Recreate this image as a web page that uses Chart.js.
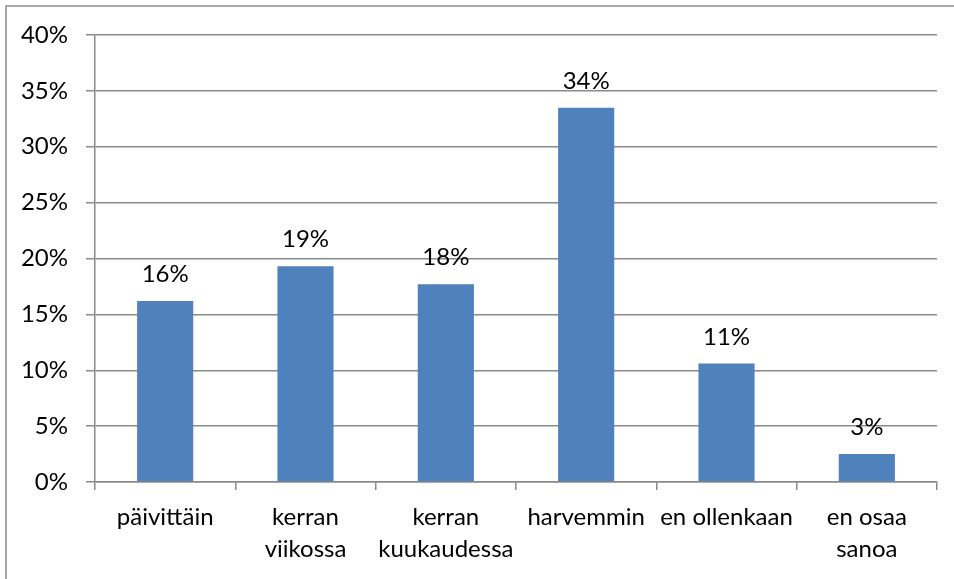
<!DOCTYPE html>
<html>
<head>
<meta charset="utf-8">
<script src="https://cdn.jsdelivr.net/npm/chart.js@4"></script>
<style>
  html, body { margin: 0; padding: 0; background: #fff; }
  #wrap { width: 954px; height: 579px; position: relative; }
</style>
</head>
<body>
<div id="wrap"><canvas id="chart" width="954" height="579"></canvas></div>
<script>
const categories = [
    'päivittäin',
    ['kerran', 'viikossa'],
    ['kerran', 'kuukaudessa'],
    'harvemmin',
    'en ollenkaan',
    ['en osaa', 'sanoa']
];
const shares = [16.2, 19.3, 17.7, 33.5, 10.6, 2.5];
const shareLabels = ['16%', '19%', '18%', '34%', '11%', '3%'];

const gridGray = '#8a8a8a';
const fontFamily = 'Lato, "Open Sans", sans-serif';

// labels above bars
const valueLabels = {
    id: 'valueLabels',
    afterDatasetsDraw(chart) {
        const ctx = chart.ctx;
        const meta = chart.getDatasetMeta(0);
        ctx.save();
        ctx.font = '24px ' + fontFamily;
        ctx.fillStyle = '#000';
        ctx.textAlign = 'center';
        ctx.textBaseline = 'alphabetic';
        meta.data.forEach((bar, i) => {
            ctx.fillText(shareLabels[i], bar.x, bar.y - 19);
        });
        ctx.restore();
    }
};

// outer frame (only top and left edges fall inside the picture)
const frame = {
    id: 'frame',
    beforeDraw(chart) {
        const ctx = chart.ctx;
        ctx.save();
        ctx.fillStyle = '#fff';
        ctx.fillRect(0, 0, chart.width, chart.height);
        ctx.strokeStyle = gridGray;
        ctx.lineWidth = 1.5;
        ctx.strokeRect(6, 6, chart.width + 20, chart.height + 20);
        ctx.restore();
    }
};

new Chart(document.getElementById('chart'), {
    type: 'bar',
    data: {
        labels: categories,
        datasets: [{
            data: shares,
            backgroundColor: '#4f81bd',
            borderWidth: 0,
            categoryPercentage: 1.0,
            barPercentage: 0.4
        }]
    },
    options: {
        responsive: false,
        animation: false,
        layout: { padding: { top: 35, right: 17, bottom: 0, left: 0 } },
        plugins: {
            legend: { display: false },
            tooltip: { enabled: false }
        },
        scales: {
            x: {
                grid: {
                    offset: true,
                    drawOnChartArea: false,
                    drawTicks: true,
                    tickLength: 8,
                    color: gridGray,
                    lineWidth: 1.5
                },
                border: { display: true, color: gridGray, width: 1.5 },
                ticks: {
                    color: '#000',
                    padding: 11,
                    maxRotation: 0,
                    autoSkip: false,
                    font: { family: fontFamily, size: 24, lineHeight: 1.35 }
                },
                afterFit(scale) { scale.height = 97; }
            },
            y: {
                min: 0,
                max: 40,
                ticks: {
                    stepSize: 5,
                    color: '#000',
                    padding: 18,
                    font: { family: fontFamily, size: 24 },
                    callback: v => v + '%'
                },
                grid: {
                    color: gridGray,
                    lineWidth: 1.5,
                    tickLength: 9
                },
                border: { display: true, color: gridGray, width: 1.5 },
                afterFit(scale) { scale.width = 95; }
            }
        }
    },
    plugins: [frame, valueLabels]
});
</script>
</body>
</html>
